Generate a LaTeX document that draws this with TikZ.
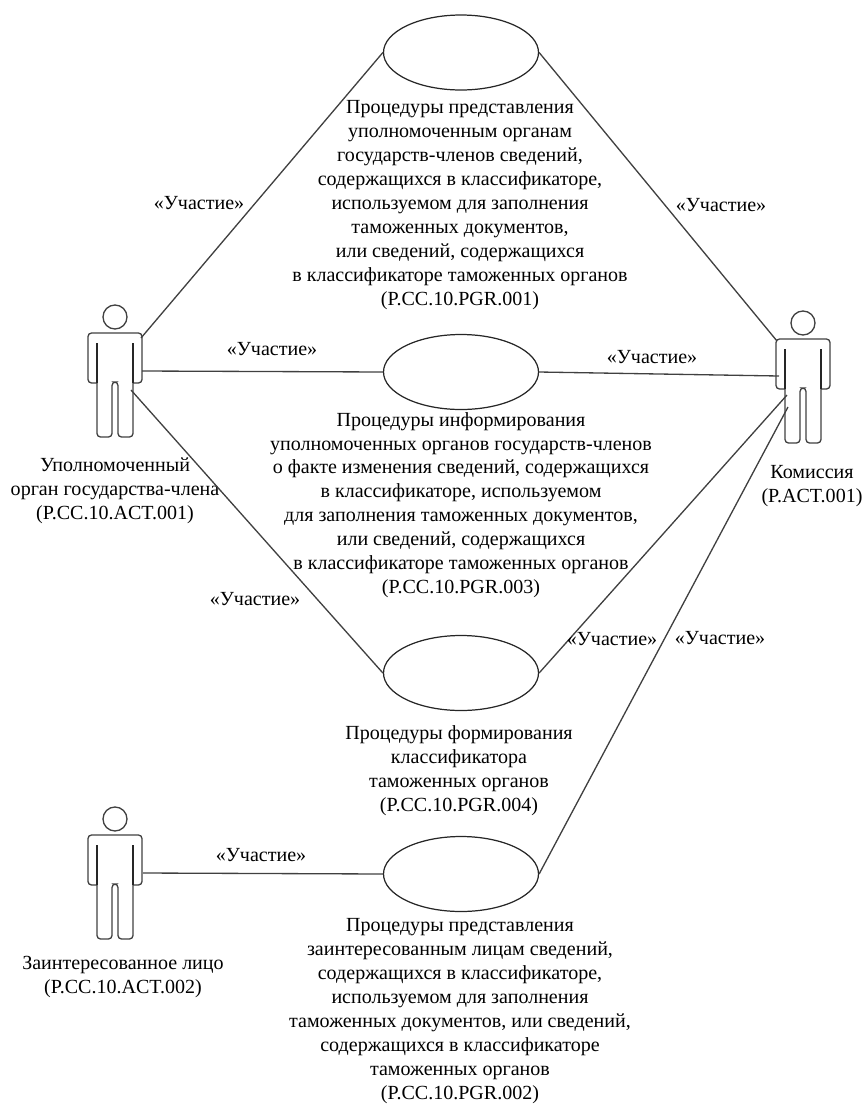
\documentclass[tikz,border=0pt]{standalone}
\usepackage{fontspec}
\setmainfont{Liberation Serif}
\usetikzlibrary{shapes.geometric}
\tikzset{
  usecase/.style={draw=black!85, line width=.7pt, ellipse, minimum width=155*0.02cm, minimum height=75*0.02cm, inner sep=0pt},
  caption/.style={align=center, font=\fontsize{11.4}{13.6}\selectfont, inner sep=0pt},
  part/.style={font=\fontsize{11.4}{13}\selectfont, inner sep=0pt},
  link/.style={draw=black!75, line width=.75pt},
  actor/.pic={
    \draw [black!75, line width=.75pt] (0,-41) circle (12);
    \draw [black!75, line width=.75pt, rounded corners=2] (-18,25) -- (-27,25) -- (-27,-25) -- (27,-25) -- (27,25) -- (18,25);
    \draw [black!75, line width=.75pt, rounded corners=2] (-18,-15) -- (-18,79) -- (-3,79) -- (-3,24) -- (3,24) -- (3,79) -- (18,79) -- (18,-15);
    \draw [black!85, line width=1.3pt] (-18,-15) -- (-18,25) (18,-15) -- (18,25);
  }
}
\begin{document}
\begin{tikzpicture}[x=.02cm, y=-.02cm]
\useasboundingbox (0,0) rectangle (863,1106);
% actors
\pic at (115,358) {actor};
\pic at (803,364) {actor};
\pic at (115,860) {actor};
\coordinate (orgTop) at (141,338);
\coordinate (orgMid) at (142,371);
\coordinate (orgLow) at (131,390);
\coordinate (komTop) at (777,341);
\coordinate (komMid) at (779,376);
\coordinate (komLow) at (787,395);
\coordinate (komEnd) at (788,407);
\coordinate (lico) at (143,873);
\node [caption] (orgText) at (115,491) {Уполномоченный\\орган государства-члена\\(P.CC.10.ACT.001)};
\node [caption] (komText) at (812,486) {Комиссия\\(P.ACT.001)};
\node [caption] (licoText) at (123,977) {Заинтересованное лицо\\(P.CC.10.ACT.002)};
% procedures
\node [usecase] (pgrA) at (461,52.5) {};
\node [usecase] (pgrB) at (461,372) {};
\node [usecase] (pgrC) at (461,673) {};
\node [usecase] (pgrD) at (461,874) {};
\node [caption] (textA) at (460,205) {Процедуры представления\\уполномоченным органам\\государств-членов сведений,\\содержащихся в классификаторе,\\используемом для заполнения\\таможенных документов,\\или сведений, содержащихся\\в классификаторе таможенных органов\\(P.CC.10.PGR.001)};
\node [caption] (textB) at (461,505) {Процедуры информирования\\уполномоченных органов государств-членов\\о факте изменения сведений, содержащихся\\в классификаторе, используемом\\для заполнения таможенных документов,\\или сведений, содержащихся\\в классификаторе таможенных органов\\(P.CC.10.PGR.003)};
\node [caption] (textC) at (459,771) {Процедуры формирования\\классификатора\\таможенных органов\\(P.CC.10.PGR.004)};
\node [caption] (textD) at (460,1011) {Процедуры представления\\заинтересованным лицам сведений,\\содержащихся в классификаторе,\\используемом для заполнения\\таможенных документов, или сведений,\\содержащихся в классификаторе\\таможенных органов\\(P.CC.10.PGR.002)};
% links
\draw [link] (orgTop)--(pgrA.west);
\draw [link] (orgMid)--(pgrB.west);
\draw [link] (orgLow)--(pgrC.west);
\draw [link] (lico)--(pgrD.west);
\draw [link] (pgrA.east)--(komTop);
\draw [link] (pgrB.east)--(komMid);
\draw [link] (pgrC.east)--(komLow);
\draw [link] (pgrD.east)--(komEnd);
\node [part] (partA) at (199,203) {«Участие»};
\node [part] (partB) at (272,349) {«Участие»};
\node [part] (partC) at (255,599) {«Участие»};
\node [part] (partD) at (261,855) {«Участие»};
\node [part] (partE) at (721,205) {«Участие»};
\node [part] (partF) at (652,357) {«Участие»};
\node [part] (partG) at (612,639) {«Участие»};
\node [part] (partH) at (720,638) {«Участие»};
\end{tikzpicture}
\end{document}
